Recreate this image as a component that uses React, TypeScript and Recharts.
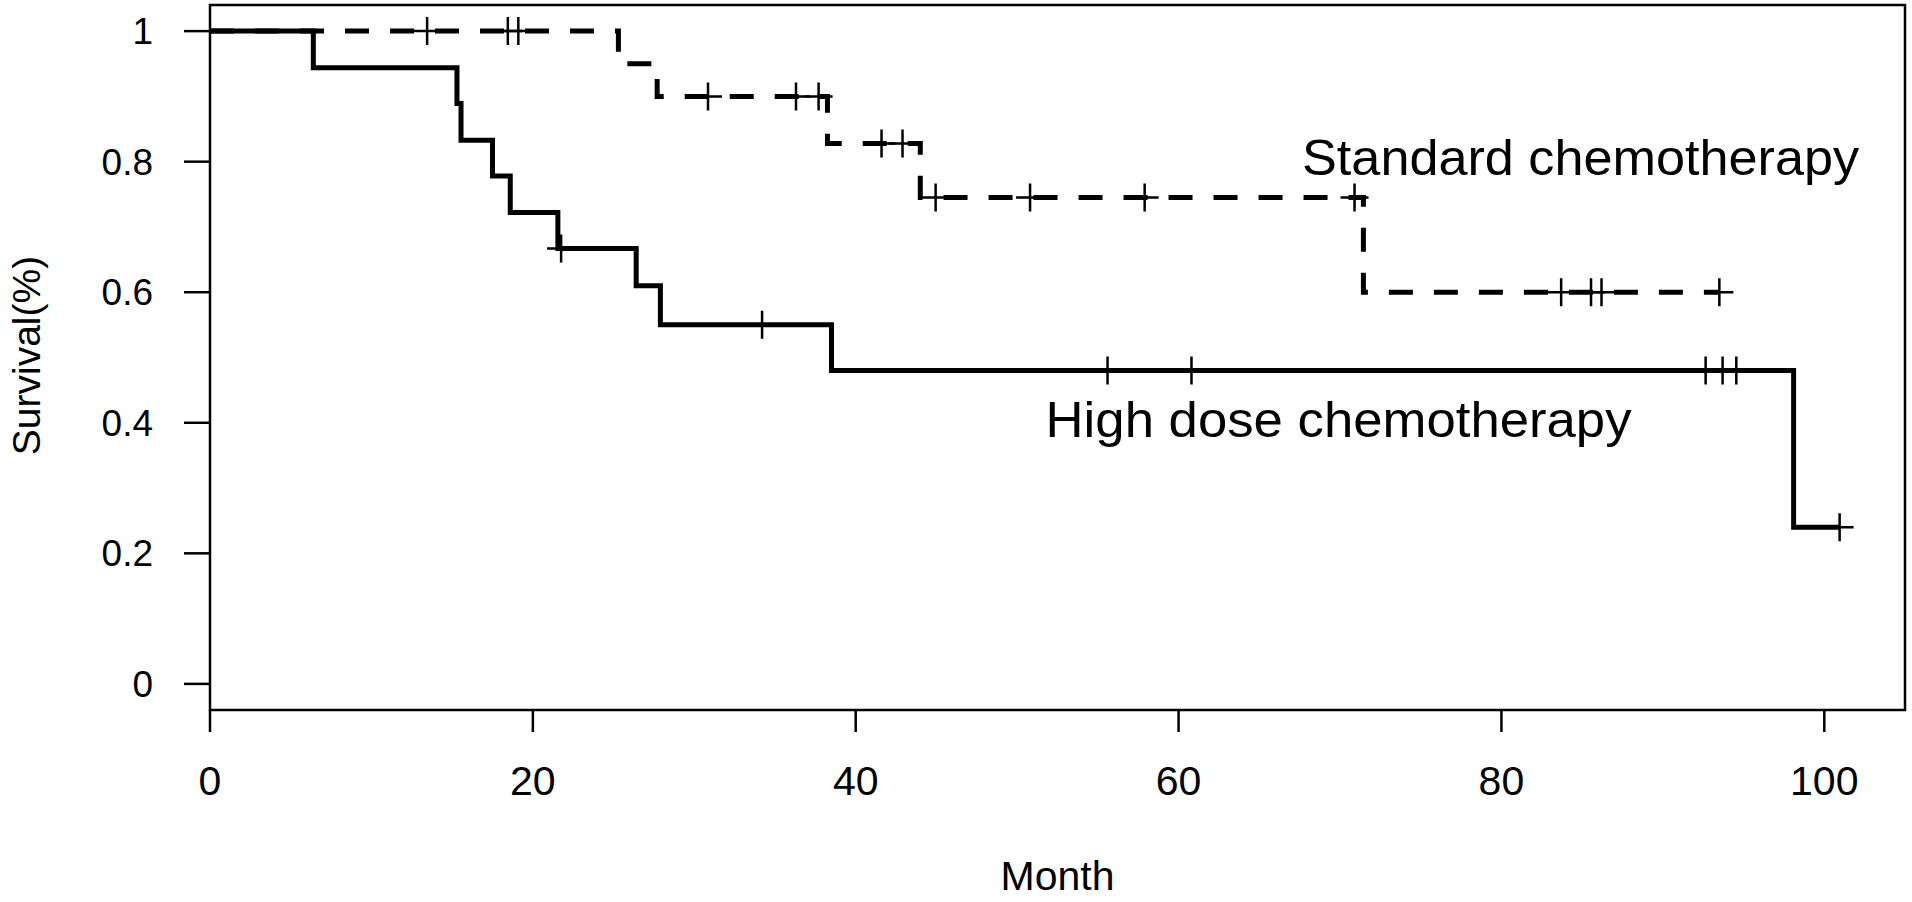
import { ComposedChart, Line, Scatter, XAxis, YAxis, ReferenceArea, ReferenceDot } from "recharts";

// high dose chemotherapy: event times (months) and survival after each step
const highTimes = [0, 6.4, 15.3, 15.55, 17.5, 18.6, 21.55, 26.4, 27.9, 38.5, 98.1, 100.95];
const highSurv = [1, 0.944, 0.889, 0.833, 0.778, 0.722, 0.667, 0.61, 0.55, 0.48, 0.24, 0.24];
const highCensorTimes = [21.75, 34.2, 55.6, 60.8, 92.65, 93.7, 94.55, 100.95];
const highCensorSurv = [0.667, 0.55, 0.48, 0.48, 0.48, 0.48, 0.48, 0.24];

// standard chemotherapy
const stdTimes = [0, 25.3, 27.7, 38.25, 44.0, 71.45, 93.5];
const stdSurv = [1, 0.95, 0.9, 0.828, 0.745, 0.6, 0.6];
const stdCensorTimes = [13.45, 18.45, 19.1, 30.85, 36.3, 37.7, 41.6, 42.9, 44.95, 50.8, 57.9, 70.9, 83.7, 85.55, 86.2, 93.5];
const stdCensorSurv = [1, 1, 1, 0.9, 0.9, 0.9, 0.828, 0.828, 0.745, 0.745, 0.745, 0.745, 0.6, 0.6, 0.6, 0.6];

const xTicks = [0, 20, 40, 60, 80, 100];
const yTicks = [0, 0.2, 0.4, 0.6, 0.8, 1];

const zip = (ts: number[], ss: number[]) => ts.map((t, i) => ({ t, s: ss[i] }));

const highData = zip(highTimes, highSurv);
const highCensors = zip(highCensorTimes, highCensorSurv);
const stdData = zip(stdTimes, stdSurv);
const stdCensors = zip(stdCensorTimes, stdCensorSurv);

const FONT = '"Liberation Sans", Arial, sans-serif';

const CensorMark = (props: any) => {
  const { cx, cy } = props;
  if (cx == null || cy == null) return null;
  return (
    <path
      d={`M${cx - 14},${cy}h28M${cx},${cy - 14}v28`}
      stroke="#000"
      strokeWidth={2.5}
      fill="none"
    />
  );
};

const annotation = (text: string, width: number) => (props: any) => {
  const vb = props.viewBox;
  return (
    <text
      x={vb.x}
      y={vb.y}
      fontSize={50}
      fill="#000"
      fontFamily={FONT}
      textLength={width}
      lengthAdjust="spacingAndGlyphs"
    >
      {text}
    </text>
  );
};

export default function App() {
  return (
    <div style={{ width: 1912, height: 902, background: "#fff", fontFamily: FONT }}>
      <style>{"body{margin:0}"}</style>
      <ComposedChart width={1912} height={902} margin={{ top: 5, right: 7, bottom: 0, left: 0 }}>
        <XAxis
          type="number"
          dataKey="t"
          domain={[0, 105]}
          allowDataOverflow
          ticks={xTicks}
          height={192}
          axisLine={false}
          tickSize={22}
          tickMargin={34}
          tickLine={{ stroke: "#000", strokeWidth: 2.5 }}
          tick={{ fill: "#000", fontSize: 41 }}
          label={{
            content: (p: any) => (
              <text
                x={p.viewBox.x + p.viewBox.width / 2}
                y={p.viewBox.y + 180}
                textAnchor="middle"
                fontSize={41}
                fill="#000"
              >
                Month
              </text>
            ),
          }}
        />
        <YAxis
          type="number"
          domain={[-0.04, 1.04]}
          allowDataOverflow
          ticks={yTicks}
          width={210}
          axisLine={false}
          tickSize={26}
          tickMargin={31}
          tickLine={{ stroke: "#000", strokeWidth: 2.5 }}
          tick={{ fill: "#000", fontSize: 37 }}
          label={{
            content: (p: any) => {
              const x = p.viewBox.x + 40;
              const y = p.viewBox.y + p.viewBox.height / 2 - 2;
              return (
                <text
                  x={x}
                  y={y}
                  transform={`rotate(-90 ${x} ${y})`}
                  textAnchor="middle"
                  fontSize={39}
                  fill="#000"
                >
                  Survival(%)
                </text>
              );
            },
          }}
        />
        <ReferenceArea x1={0} x2={105} y1={-0.04} y2={1.04} fill="none" stroke="#000" strokeWidth={2.5} />
        <Line
          data={stdData}
          dataKey="s"
          type="stepAfter"
          stroke="#000"
          strokeWidth={5}
          strokeDasharray="24 21"
          dot={false}
          activeDot={false}
          isAnimationActive={false}
        />
        <Line
          data={highData}
          dataKey="s"
          type="stepAfter"
          stroke="#000"
          strokeWidth={5}
          dot={false}
          activeDot={false}
          isAnimationActive={false}
        />
        <Scatter data={stdCensors} dataKey="s" shape={CensorMark} isAnimationActive={false} />
        <Scatter data={highCensors} dataKey="s" shape={CensorMark} isAnimationActive={false} />
        <ReferenceDot x={67.65} y={0.78} r={0} fill="none" stroke="none" label={{ content: annotation("Standard chemotherapy", 557) }} />
        <ReferenceDot x={51.76} y={0.378} r={0} fill="none" stroke="none" label={{ content: annotation("High dose chemotherapy", 586) }} />
      </ComposedChart>
    </div>
  );
}
